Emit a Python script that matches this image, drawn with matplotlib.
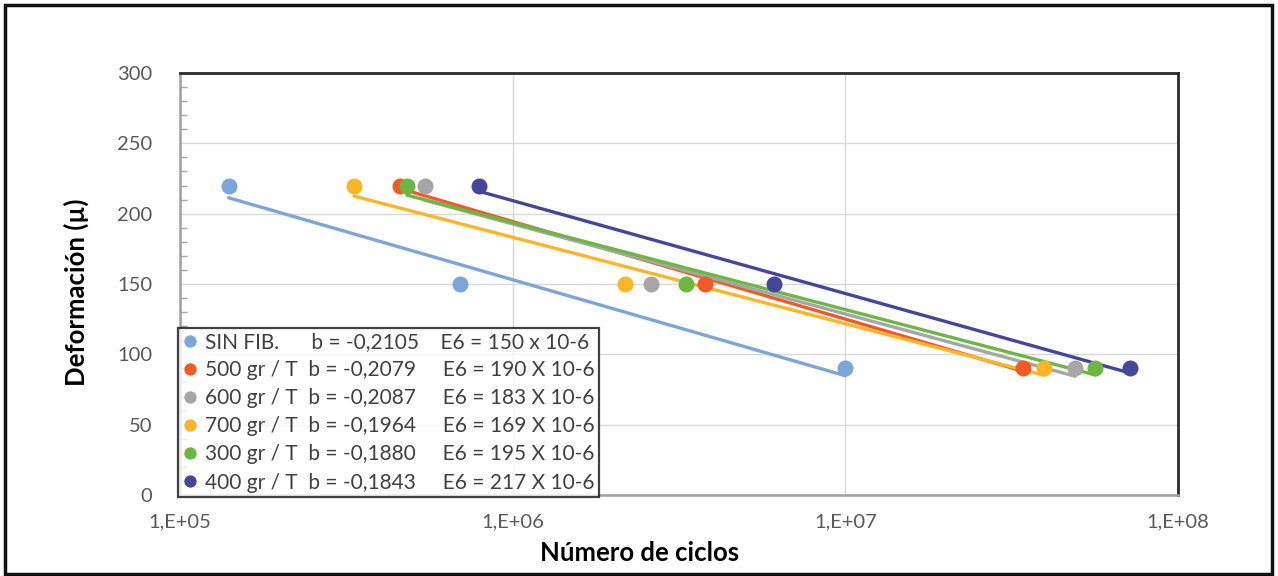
import matplotlib.pyplot as plt
import numpy as np
from matplotlib.patches import Rectangle
from matplotlib.ticker import FixedLocator, FuncFormatter, MultipleLocator

plt.rcParams["font.family"] = ["Lato", "DejaVu Sans"]

# Deformación aplicada en cada ensayo (µ)
strain = [220, 150, 90]

series_names = ["SIN FIB.", "500 gr / T", "600 gr / T", "700 gr / T", "300 gr / T", "400 gr / T"]
b_labels = ["-0,2105", "-0,2079", "-0,2087", "-0,1964", "-0,1880", "-0,1843"]
e6_labels = ["150 x 10-6", "190 X 10-6", "183 X 10-6", "169 X 10-6", "195 X 10-6", "217 X 10-6"]

# Número de ciclos hasta la falla para 220, 150 y 90 µ
cycles_sin_fib = [1.40e5, 6.93e5, 1.00e7]
cycles_500 = [4.60e5, 3.78e6, 3.43e7]
cycles_600 = [5.45e5, 2.61e6, 4.91e7]
cycles_700 = [3.34e5, 2.18e6, 3.95e7]
cycles_300 = [4.81e5, 3.31e6, 5.64e7]
cycles_400 = [7.90e5, 6.12e6, 7.18e7]

all_cycles = [cycles_sin_fib, cycles_500, cycles_600, cycles_700, cycles_300, cycles_400]
colors = ["#7CA6D8", "#EE5B27", "#A6A6A6", "#FDB528", "#6CB744", "#45469A"]

x_ticks = [1e5, 1e6, 1e7, 1e8]
y_ticks = [0, 50, 100, 150, 200, 250, 300]

fig = plt.figure(figsize=(12.78, 5.76), dpi=100)
ax = fig.add_axes([0.1408, 0.1406, 0.781, 0.7327])

name_pad = ["      ", "  ", "  ", "  ", "  ", "  "]
b_pad = ["    ", "     ", "     ", "     ", "     ", "     "]

handles = []
for name, cyc, color, b, e6, p1, p2 in zip(series_names, all_cycles, colors,
                                           b_labels, e6_labels, name_pad, b_pad):
    cyc = np.asarray(cyc, dtype=float)
    eps = np.asarray(strain, dtype=float)
    # línea de tendencia: recta en eje x logarítmico
    slope, intercept = np.polyfit(np.log10(cyc), eps, 1)
    xs = np.array([cyc.min(), cyc.max()])
    ax.plot(xs, intercept + slope * np.log10(xs), color=color, lw=2.4,
            solid_capstyle="round", zorder=3)
    h, = ax.plot(cyc, eps, "o", color=color, ms=10.5, zorder=4,
                 label=f"{name}{p1}b = {b}{p2}E6 = {e6}")
    handles.append(h)

ax.set_xscale("log")
ax.set_xlim(1e5, 1e8)
ax.set_ylim(0, 300)
ax.xaxis.set_major_locator(FixedLocator(x_ticks))
ax.xaxis.set_minor_locator(FixedLocator([]))
ax.xaxis.set_major_formatter(FuncFormatter(lambda v, _: f"1,E+0{int(round(np.log10(v)))}"))
ax.yaxis.set_major_locator(FixedLocator(y_ticks))
ax.yaxis.set_minor_locator(MultipleLocator(10))

ax.grid(True, which="major", color="#D9D9D9", lw=1.0)
ax.set_axisbelow(True)

ax.tick_params(axis="both", which="major", length=0, labelsize=14.5,
               labelcolor="#595959", pad=13)
ax.tick_params(axis="y", which="minor", direction="in", length=5,
               color="#A6A6A6", width=1)
ax.tick_params(axis="y", which="major", pad=20)

for side in ["left", "bottom"]:
    ax.spines[side].set_color("#A0A0A0")
    ax.spines[side].set_linewidth(1.8)
for side in ["top", "right"]:
    ax.spines[side].set_color("#2B2B2B")
    ax.spines[side].set_linewidth(2.0)

ax.set_xlabel("Número de ciclos", fontsize=18.5, fontweight="bold")
ax.set_ylabel("Deformación (µ)", fontsize=18.5, fontweight="bold")
ax.xaxis.set_label_coords(0.46, -0.11)
ax.yaxis.set_label_coords(-0.091, 0.48)

leg = ax.legend(handles=handles, loc="lower left", bbox_to_anchor=(-0.002, -0.004),
                borderaxespad=0, fontsize=15, frameon=True, fancybox=False,
                handlelength=0.8, handletextpad=0.3, labelspacing=0.39,
                borderpad=0.2, markerscale=0.75, labelcolor="#404040")
leg.get_frame().set_edgecolor("#111111")
leg.get_frame().set_linewidth(1.6)
leg.set_zorder(5)

fig.patches.append(Rectangle((0.004, 0.004), 0.991, 0.988, transform=fig.transFigure,
                             fill=False, edgecolor="#111111", lw=2.5))

fig.savefig("out.png", dpi=100)
